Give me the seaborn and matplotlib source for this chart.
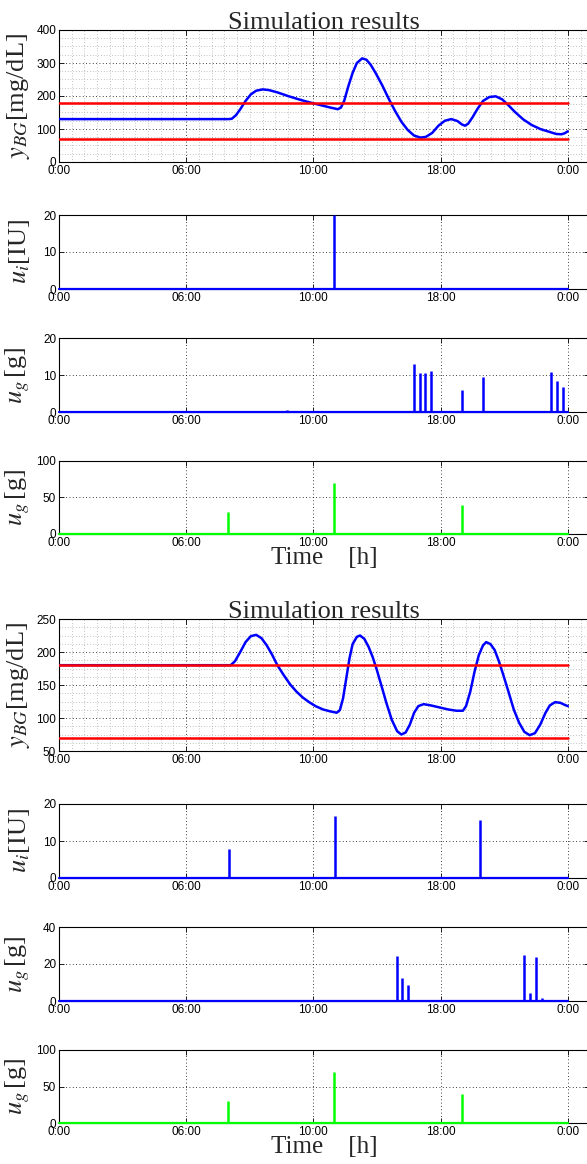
import numpy as np
import pandas as pd
import seaborn as sns
import matplotlib.pyplot as plt
from matplotlib.ticker import MultipleLocator

# ---- data (time in hours from 0:00) ----
tick_pos = [0, 6, 12, 18, 24]
tick_lab = ['0:00', '06:00', '10:00', '18:00', '0:00']
t_span = [0, 24]
bg_limits = [180, 70]

# scenario 1 - glucose
bg1_t = [0, 8.0, 8.15, 8.35, 8.55, 8.8, 9.05, 9.3, 9.6, 9.9, 10.3, 10.8, 11.3, 11.8,
         12.3, 12.8, 13.15, 13.3, 13.45, 13.65, 13.85, 14.05, 14.3, 14.5, 14.7, 14.95,
         15.25, 15.55, 15.85, 16.15, 16.45, 16.75, 17.05, 17.3, 17.6, 17.9, 18.2, 18.5,
         18.8, 19.0, 19.15, 19.3, 19.5, 19.75, 20.0, 20.3, 20.6, 20.9, 21.2, 21.5, 21.9,
         22.3, 22.7, 23.1, 23.45, 23.7, 23.85, 24.0]
bg1_v = [130, 130, 131, 142, 160, 185, 205, 216, 220, 218, 211, 200, 190, 181,
         173, 165, 160, 165, 185, 230, 270, 300, 314, 310, 295, 268,
         232, 192, 155, 122, 97, 80, 74, 76, 88, 110, 125, 130,
         124, 114, 110, 116, 135, 162, 185, 197, 199, 190, 172, 152, 129,
         112, 100, 92, 85, 84, 87, 93]
ui1_t = [12.97]
ui1_v = [20]
ug1_t = [10.76, 16.73, 17.01, 17.28, 17.56, 18.99, 20.02, 23.22, 23.5, 23.76]
ug1_v = [0.6, 13.1, 10.5, 10.5, 11.2, 5.9, 9.5, 10.7, 8.3, 6.8]

# meals (same in both scenarios)
meal_t = [7.97, 12.97, 18.99]
meal_v = [30, 70, 40]

# scenario 2 - glucose
bg2_t = [0, 8.1, 8.3, 8.55, 8.8, 9.05, 9.3, 9.55, 9.8, 10.05, 10.3, 10.6, 10.9, 11.2,
         11.5, 11.8, 12.1, 12.45, 12.8, 13.1, 13.25, 13.4, 13.55, 13.7, 13.85, 14.05,
         14.2, 14.4, 14.6, 14.8, 15.0, 15.2, 15.45, 15.7, 15.95, 16.15, 16.35, 16.55,
         16.75, 16.95, 17.2, 17.55, 17.95, 18.35, 18.75, 19.05, 19.2, 19.4, 19.6, 19.8,
         20.0, 20.15, 20.35, 20.55, 20.75, 20.95, 21.2, 21.45, 21.7, 21.95, 22.2, 22.45,
         22.7, 22.95, 23.15, 23.4, 23.65, 23.85, 24.0]
bg2_v = [180, 180, 186, 200, 215, 224, 226, 221, 210, 196, 180, 165, 151, 140,
         131, 124, 118, 113, 110, 108, 112, 130, 160, 190, 212, 223,
         225, 220, 208, 192, 172, 150, 122, 97, 80, 75, 78, 90,
         108, 118, 121, 119, 116, 113, 111, 111, 118, 140, 170, 195,
         210, 215, 212, 203, 186, 166, 140, 113, 93, 79, 74, 77,
         90, 108, 119, 124, 123, 120, 118]
ui2_t = [8.0, 13.0, 19.86]
ui2_v = [7.8, 16.8, 15.8]
ug2_t = [15.95, 16.2, 16.47, 21.94, 22.2, 22.49, 22.76]
ug2_v = [24.2, 12.4, 8.4, 24.9, 4.5, 23.6, 1.8]

# ---- style ----
sns.set_style('ticks')
plt.rcParams['font.family'] = ['Liberation Sans', 'DejaVu Sans']
plt.rcParams['mathtext.fontset'] = 'stix'
SERIF = 'Liberation Serif'
BLUE, RED, GREEN = (0, 0, 1), (1, 0, 0), (0, 1, 0)
DOT = (0, (1, 3))

W, H = 587, 1164
fig = plt.figure(figsize=(W / 100, H / 100), dpi=100)


def make_ax(top, bottom):
    ax = fig.add_axes([59 / W, 1 - bottom / H, 530 / W, (bottom - top) / H])
    ax.set_xlim(0, 25)
    ax.set_xticks(tick_pos)
    ax.set_xticklabels(tick_lab)
    ax.tick_params(direction='in', length=3.5, width=0.6, top=True, right=True,
                   labelsize=8.5, pad=2, colors='k')
    ax.tick_params(which='minor', length=0)
    for s in ax.spines.values():
        s.set_linewidth(0.8)
        s.set_color('k')
    ax.grid(True, which='major', ls=DOT, color='k', lw=0.6)
    ax.set_axisbelow(True)
    return ax


def set_lab(ax, text):
    ax.set_ylabel(text, fontsize=19, family=SERIF)
    ax.yaxis.set_label_coords(-0.05, 0.5)


def bg_panel(ax, t, v, ylim, major, minor):
    sns.lineplot(x=t, y=v, ax=ax, color=BLUE, lw=1.8, sort=False, zorder=3)
    for lim in bg_limits:
        sns.lineplot(x=t_span, y=[lim, lim], ax=ax, color=RED, lw=1.8, zorder=4)
    ax.set_ylim(*ylim)
    ax.yaxis.set_major_locator(MultipleLocator(major))
    ax.xaxis.set_minor_locator(MultipleLocator(0.6))
    ax.yaxis.set_minor_locator(MultipleLocator(minor))
    ax.grid(True, which='minor', ls=DOT, color='0.55', lw=0.5)
    ax.set_title('Simulation results', fontsize=19, family=SERIF, pad=1)
    set_lab(ax, r'$y_{BG}$[mg/dL]')


def pulse_panel(ax, t, v, color, ymax, step, label, xlabel=False):
    ax.plot(t_span, [0, 0], color=color, lw=1.6, clip_on=False, zorder=3)
    ax.vlines(t, 0, v, color=color, lw=1.8, clip_on=False, zorder=3)
    ax.set_ylim(0, ymax)
    ax.yaxis.set_major_locator(MultipleLocator(step))
    set_lab(ax, label)
    if xlabel:
        ax.set_xlabel('Time    [h]', fontsize=18, family=SERIF, labelpad=-1)


groups = [
    (30, (bg1_t, bg1_v, (0, 400), 100, 25), (ui1_t, ui1_v), (ug1_t, ug1_v, 20, 10)),
    (619, (bg2_t, bg2_v, (50, 250), 50, 12.5), (ui2_t, ui2_v), (ug2_t, ug2_v, 40, 20)),
]
for top, bg, ui, ug in groups:
    h_bg = 132
    ax1 = make_ax(top, top + h_bg)
    bg_panel(ax1, *bg)
    p2 = top + 185
    ax2 = make_ax(p2, p2 + 74)
    pulse_panel(ax2, ui[0], ui[1], BLUE, 20, 10, r'$u_i$[IU]')
    p3 = p2 + 123
    ax3 = make_ax(p3, p3 + 74)
    pulse_panel(ax3, ug[0], ug[1], BLUE, ug[2], ug[3], r'$u_g\,$[g]')
    p4 = p3 + 123
    ax4 = make_ax(p4, p4 + 73)
    pulse_panel(ax4, meal_t, meal_v, GREEN, 100, 50, r'$u_g\,$[g]', xlabel=True)

fig.savefig('out.png', dpi=100)
